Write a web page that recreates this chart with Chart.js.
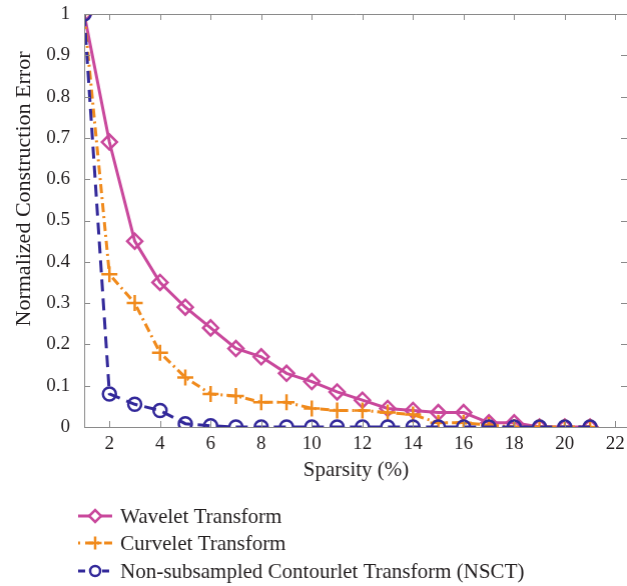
<!DOCTYPE html>
<html>
<head>
<meta charset="utf-8">
<script src="https://cdn.jsdelivr.net/npm/chart.js@4"></script>
<style>
  html, body { margin: 0; padding: 0; background: #fff; overflow: hidden; }
  #wrap { width: 627px; height: 586px; position: relative; }
</style>
</head>
<body>
<div id="wrap"><canvas id="errChart"></canvas></div>
<script>
// Sparsity (%) on the x axis
const sparsity = [1, 2, 3, 4, 5, 6, 7, 8, 9, 10, 11, 12, 13, 14, 15, 16, 17, 18, 19, 20, 21];

// Normalized construction error per method
const waveletErr = [1, 0.69, 0.45, 0.35, 0.29, 0.24, 0.19, 0.17, 0.13, 0.11, 0.085, 0.065, 0.045, 0.04, 0.035, 0.035, 0.01, 0.01, 0, 0, 0];
const curveletErr = [1, 0.37, 0.30, 0.18, 0.12, 0.08, 0.075, 0.06, 0.06, 0.045, 0.04, 0.04, 0.035, 0.03, 0.01, 0.01, 0.005, 0, 0, 0, 0];
const nsctErr = [1, 0.08, 0.055, 0.04, 0.008, 0.003, 0, 0, 0, 0, 0, 0, 0, 0, 0, 0, 0, 0, 0, 0, 0];

// Tick labels
const xTicks = [2, 4, 6, 8, 10, 12, 14, 16, 18, 20, 22];
const yTicks = [0, 0.1, 0.2, 0.3, 0.4, 0.5, 0.6, 0.7, 0.8, 0.9, 1];

const FONT = "'Liberation Serif', 'Times New Roman', serif";
const TEXT = '#231f20';
const AXIS_GREY = '#8a8a8a';

const toXY = (vals) => vals.map((v, i) => ({ x: sparsity[i], y: v }));

// MATLAB style box with inward ticks
const boxTicks = {
    id: 'boxTicks',
    afterDatasetsDraw(chart) {
        const { ctx, chartArea: a, scales } = chart;
        ctx.save();
        ctx.strokeStyle = AXIS_GREY;
        ctx.lineWidth = 1;
        ctx.beginPath();
        ctx.moveTo(a.left + 0.5, a.top + 0.5);
        ctx.lineTo(a.right, a.top + 0.5);
        ctx.moveTo(a.left + 0.5, a.top);
        ctx.lineTo(a.left + 0.5, a.bottom + 0.5);
        ctx.lineTo(a.right, a.bottom + 0.5);
        const len = 6;
        xTicks.forEach(v => {
            const px = Math.round(scales.x.getPixelForValue(v)) + 0.5;
            ctx.moveTo(px, a.bottom);
            ctx.lineTo(px, a.bottom - len);
            ctx.moveTo(px, a.top);
            ctx.lineTo(px, a.top + len);
        });
        yTicks.forEach(v => {
            const py = Math.round(scales.y.getPixelForValue(v)) + 0.5;
            ctx.moveTo(a.left, py);
            ctx.lineTo(a.left + len, py);
            ctx.moveTo(a.right - 1, py);
            ctx.lineTo(a.right - 1 - len, py);
        });
        ctx.stroke();
        ctx.restore();
    }
};

// y title sits a bit above the middle of the axis in the original
const yTitle = {
    id: 'yTitle',
    afterDraw(chart) {
        const { ctx } = chart;
        ctx.save();
        ctx.translate(24, 189);
        ctx.rotate(-Math.PI / 2);
        ctx.fillStyle = TEXT;
        ctx.font = '22px ' + FONT;
        ctx.textAlign = 'center';
        ctx.textBaseline = 'middle';
        ctx.fillText('Normalized Construction Error', 0, 0);
        ctx.restore();
    }
};

// legend below the axes, line sample + marker + label
const bottomLegend = {
    id: 'bottomLegend',
    afterDraw(chart) {
        const { ctx } = chart;
        const rows = [516, 543, 571];
        ctx.save();
        chart.data.datasets.forEach((ds, i) => {
            const y = rows[i];
            ctx.strokeStyle = ds.borderColor;
            ctx.lineWidth = ds.borderWidth;
            ctx.setLineDash(ds.legendDash);
            ctx.beginPath();
            ctx.moveTo(78, y);
            ctx.lineTo(112, y);
            ctx.stroke();
            ctx.setLineDash([]);
            ctx.fillStyle = '#fff';
            ctx.strokeStyle = ds.borderColor;
            ctx.lineWidth = ds.pointBorderWidth;
            Chart.helpers.drawPoint(ctx, {
                pointStyle: ds.pointStyle,
                radius: ds.pointRadius - 1.5,
                rotation: 0,
                borderWidth: ds.pointBorderWidth
            }, 95, y);
            ctx.fillStyle = TEXT;
            ctx.font = '21px ' + FONT;
            ctx.textBaseline = 'middle';
            ctx.fillText(ds.label, 120, y + 1);
        });
        ctx.restore();
    }
};

const chart = new Chart(document.getElementById('errChart'), {
    type: 'line',
    data: {
        datasets: [
            {
                label: 'Wavelet Transform',
                data: toXY(waveletErr),
                borderColor: '#c9489c',
                borderWidth: 3,
                pointStyle: 'rectRot',
                pointRadius: 7.5,
                pointBorderWidth: 2.5,
                pointBackgroundColor: 'rgba(0,0,0,0)',
                pointBorderColor: '#c9489c',
                legendDash: [],
                order: 3
            },
            {
                label: 'Curvelet Transform',
                data: toXY(curveletErr),
                borderColor: '#f08a1c',
                borderWidth: 3,
                borderDash: [9, 4, 2, 4],
                pointStyle: 'cross',
                pointRadius: 8,
                pointBorderWidth: 2.5,
                pointBorderColor: '#f08a1c',
                legendDash: [2, 5, 8, 4],
                order: 2
            },
            {
                label: 'Non-subsampled Contourlet Transform (NSCT)',
                data: toXY(nsctErr),
                borderColor: '#33299a',
                borderWidth: 3,
                borderDash: [12, 7],
                pointStyle: 'circle',
                pointRadius: 6.5,
                pointBorderWidth: 2.5,
                pointBackgroundColor: 'rgba(0,0,0,0)',
                pointBorderColor: '#33299a',
                legendDash: [7, 5],
                order: 1
            }
        ]
    },
    options: {
        responsive: true,
        maintainAspectRatio: false,
        animation: false,
        layout: { padding: { top: 14, right: 0, bottom: 99, left: 0 } },
        plugins: {
            legend: { display: false },
            tooltip: { enabled: false }
        },
        scales: {
            x: {
                type: 'linear',
                min: 1,
                max: 22.5,
                afterBuildTicks: (s) => { s.ticks = xTicks.map(v => ({ value: v })); },
                afterFit: (s) => { s.height = 60; s.paddingRight = 0; s.paddingLeft = 0; },
                grid: { display: false, drawTicks: false },
                border: { display: false },
                ticks: { color: TEXT, font: { family: FONT, size: 19 }, padding: 6, maxRotation: 0 },
                title: { display: true, text: 'Sparsity (%)', color: TEXT, font: { family: FONT, size: 21 }, padding: { top: 3 } }
            },
            y: {
                min: 0,
                max: 1,
                afterBuildTicks: (s) => { s.ticks = yTicks.map(v => ({ value: v })); },
                afterFit: (s) => { s.width = 84; s.paddingTop = 0; s.paddingBottom = 0; },
                grid: { display: false, drawTicks: false },
                border: { display: false },
                ticks: {
                    color: TEXT,
                    font: { family: FONT, size: 19 },
                    padding: 14,
                    callback: (v) => String(Math.round(v * 10) / 10)
                },
                title: { display: false }
            }
        }
    },
    plugins: [boxTicks, yTitle, bottomLegend]
});

// the plot box runs off the right edge of the picture; Chart.js keeps a small
// right gutter, so widen the canvas by that much and let the page clip it
const gutter = 627 - chart.chartArea.right;
if (gutter > 0) {
    document.getElementById('wrap').style.width = (627 + gutter) + 'px';
    chart.resize(627 + gutter, 586);
}
</script>
</body>
</html>
